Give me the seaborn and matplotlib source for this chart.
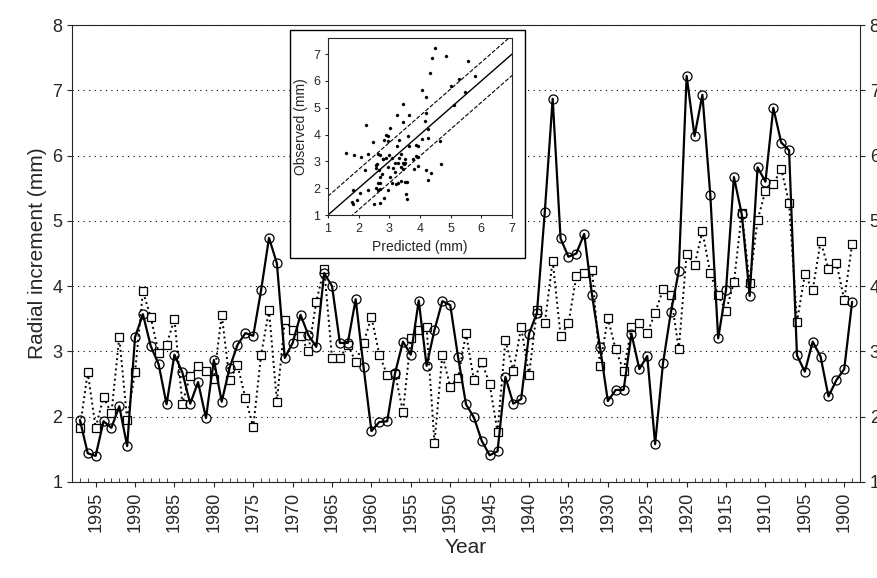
import matplotlib
matplotlib.use("Agg")
import matplotlib.pyplot as plt
import seaborn as sns
import numpy as np
import pandas as pd

years = list(range(1997, 1898, -1))

observed = [1.95, 1.44, 1.40, 1.93, 1.83, 2.16, 1.55, 3.22, 3.57, 3.08,
            2.80, 2.19, 2.95, 2.68, 2.20, 2.53, 1.98, 2.87, 2.23, 2.75,
            3.10, 3.28, 3.24, 3.94, 4.74, 4.35, 2.90, 3.13, 3.56, 3.25,
            3.07, 4.20, 4.00, 3.13,
            3.13, 3.80, 2.76, 1.78, 1.92, 1.93, 2.67, 3.15, 2.95, 3.78,
            2.78, 3.33, 3.77, 3.71, 2.91, 2.19, 1.99, 1.63, 1.41, 1.47,
            2.61, 2.20, 2.27, 3.27, 3.59, 5.14, 6.87, 4.73, 4.45, 4.50,
            4.80,
            3.86, 3.07, 2.24, 2.41, 2.41, 3.27, 2.73, 2.93, 1.58, 2.82,
            3.60, 4.23, 7.22, 6.30, 6.93, 5.40, 3.20, 3.94, 5.67, 5.10,
            3.85, 5.82, 5.60, 6.73, 6.20, 6.08, 2.94, 2.69, 3.15, 2.92,
            2.31, 2.56, 2.73, 3.76]

predicted = [1.83, 2.68, 1.83, 2.30, 2.05, 3.22, 1.95, 2.68, 3.92, 3.52,
             2.97, 3.10, 3.50, 2.20, 2.63, 2.77, 2.70, 2.58, 3.56, 2.56,
             2.79, 2.29, 1.84, 2.95, 3.63, 2.23, 3.48, 3.33, 3.24, 3.00,
             3.76, 4.27, 2.90, 2.90,
             3.10, 2.84, 3.13, 3.53, 2.95, 2.64, 2.66, 2.07, 3.20, 3.33,
             3.37, 1.60, 2.95, 2.46, 2.60, 3.28, 2.56, 2.84, 2.50, 1.77,
             3.17, 2.70, 3.37, 2.64, 3.63, 3.43, 4.39, 3.24, 3.43, 4.15,
             4.20,
             4.25, 2.78, 3.51, 3.03, 2.70, 3.37, 3.43, 3.28, 3.59, 3.95,
             3.86, 3.03, 4.50, 4.32, 4.84, 4.20, 3.86, 3.62, 4.06, 5.12,
             4.05, 5.01, 5.46, 5.56, 5.80, 5.27, 3.45, 4.18, 3.94, 4.69,
             4.26, 4.36, 3.79, 4.64]

df = pd.DataFrame({"Year": years, "Observed": observed, "Predicted": predicted})

sns.set_style("ticks")
plt.rcParams["font.family"] = ["Liberation Sans", "DejaVu Sans"]

fig = plt.figure(figsize=(8.77, 5.78), dpi=100)
ax = fig.add_axes([72 / 877, 1 - 482 / 578, 788 / 877, 457 / 578])

sns.lineplot(data=df, x="Year", y="Predicted", ax=ax, color="black", lw=1.4,
             linestyle=":", marker="s", markersize=6, markerfacecolor="white",
             markeredgecolor="black", markeredgewidth=0.9)
sns.lineplot(data=df, x="Year", y="Observed", ax=ax, color="black", lw=1.6,
             marker="o", markersize=6.5, markerfacecolor="none",
             markeredgecolor="black", markeredgewidth=0.9)

ax.set_xlim(1998, 1898)
ax.set_ylim(1, 8)
ax.set_xticks(range(1995, 1899, -5))
ax.set_xticks(range(1998, 1897, -1), minor=True)
ax.tick_params(axis="x", rotation=90, labelsize=13)
ax.tick_params(axis="x", which="minor", direction="in", length=3)
ax.tick_params(axis="y", labelsize=13, right=True, labelright=True)
ax.set_yticks(range(1, 9))
ax.grid(axis="y", linestyle=(0, (1, 4)), color="black", lw=0.8)
ax.set_xlabel("Year", fontsize=15)
ax.set_ylabel("Radial increment (mm)", fontsize=15)

# inset: predicted vs observed
fig.patches.append(plt.Rectangle((290 / 877, 1 - 258 / 578), 235 / 877, 228 / 578,
                                 transform=fig.transFigure, facecolor="white",
                                 edgecolor="black", lw=1, zorder=3))
ins = fig.add_axes([328 / 877, 1 - 215 / 578, 184 / 877, 177 / 578], zorder=4)
sns.scatterplot(data=df, x="Predicted", y="Observed", ax=ins, color="black",
                s=5, edgecolor=None)
xx = np.array([1, 7])
ins.plot(xx, xx, color="black", lw=1)
ins.plot(xx, xx + 0.7, color="black", lw=0.8, linestyle="--")
ins.plot(xx, xx - 0.8, color="black", lw=0.8, linestyle="--")
ins.set_xlim(1, 7)
ins.set_ylim(1, 7.6)
ins.set_xticks(range(1, 8))
ins.set_yticks(range(1, 8))
ins.tick_params(labelsize=9, length=2)
ins.set_xlabel("Predicted (mm)", fontsize=10)
ins.set_ylabel("Observed (mm)", fontsize=10)

fig.savefig("out.png", dpi=100)
